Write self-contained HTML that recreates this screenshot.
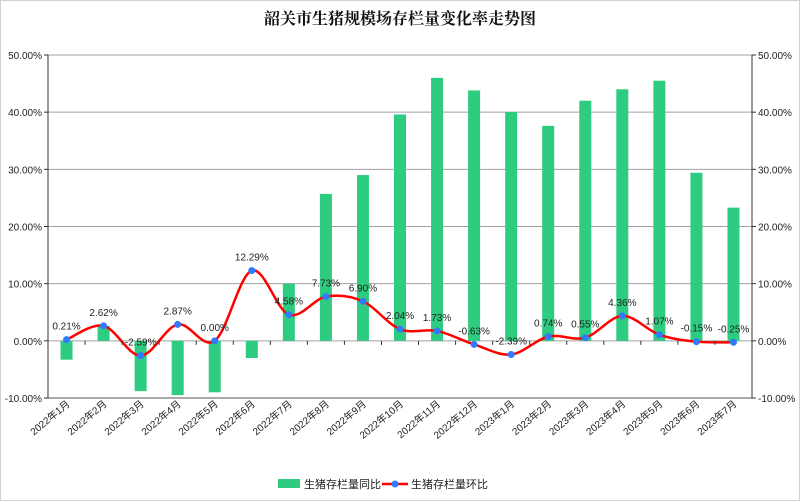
<!DOCTYPE html>
<html><head><meta charset="utf-8"><style>
body{margin:0;background:#fff;}
svg{display:block;font-family:"Liberation Sans","Noto Sans CJK SC",sans-serif;}
</style></head><body>
<svg id="c" width="800" height="501">
<rect x="0.5" y="0.5" width="799" height="500" fill="#fff" stroke="#d0d0d0"/>
<text x="400" y="24" text-anchor="middle" font-size="16" font-weight="bold" font-family="'Noto Serif CJK SC',serif" fill="#111">韶关市生猪规模场存栏量变化率走势图</text>
<g id="grid"></g><g id="bars"></g><g id="line"></g><g id="axes"></g>
<g>
<rect x="278" y="479" width="22" height="9" fill="#2ecc80"/>
<text x="304" y="488" font-size="11" fill="#222">生猪存栏量同比</text>
<line x1="382" y1="484" x2="408" y2="484" stroke="#f00" stroke-width="2.5"/>
<circle cx="395" cy="484" r="3.5" fill="#2f7bff"/>
<text x="411" y="488" font-size="11" fill="#222">生猪存栏量环比</text>
</g>
</svg>
<script>
const categories=["2022年1月","2022年2月","2022年3月","2022年4月","2022年5月","2022年6月","2022年7月","2022年8月","2022年9月","2022年10月","2022年11月","2022年12月","2023年1月","2023年2月","2023年3月","2023年4月","2023年5月","2023年6月","2023年7月"];
const yoyValues=[-3.3,2.6,-8.8,-9.5,-9.0,-3.0,10.0,25.7,29.0,39.6,46.0,43.8,40.0,37.6,42.0,44.0,45.5,29.4,23.3];
const momValues=[0.21,2.62,-2.59,2.87,0.00,12.29,4.58,7.73,6.90,2.04,1.73,-0.63,-2.39,0.74,0.55,4.36,1.07,-0.15,-0.25];
const momLabels=["0.21%","2.62%","-2.59%","2.87%","0.00%","12.29%","4.58%","7.73%","6.90%","2.04%","1.73%","-0.63%","-2.39%","0.74%","0.55%","4.36%","1.07%","-0.15%","-0.25%"];
const yTicks=[50,40,30,20,10,0,-10];
const NS="http://www.w3.org/2000/svg";
const L=48,R=752,T=55,B=398,ymin=-10,ymax=50;
const step=(R-L)/categories.length;
const x=i=>L+step*(i+0.5);
const y=v=>B-(v-ymin)/(ymax-ymin)*(B-T);
function mk(tag,attrs,parent,txt){const e=document.createElementNS(NS,tag);for(const k in attrs)e.setAttribute(k,attrs[k]);if(txt!==undefined)e.textContent=txt;document.getElementById(parent).appendChild(e);return e;}
yTicks.forEach(t=>{
 const g=mk('line',{x1:L,x2:R,y1:y(t),y2:y(t),stroke:t===-10?'#555':'#a0a0a0','stroke-width':1},'grid');
 
 
 const lab=t.toFixed(2)+'%';
 const a=mk('text',{x:L-6,y:y(t)+4,'text-anchor':'end','font-size':10,fill:'#222'},'axes',lab);
 
 
 const b=mk('text',{x:R+6,y:y(t)+4,'font-size':10,fill:'#222'},'axes',lab);
 
 
 mk('line',{x1:L-4,x2:L,y1:y(t),y2:y(t),stroke:'#333'},'axes');
 mk('line',{x1:R,x2:R+4,y1:y(t),y2:y(t),stroke:'#333'},'axes');
});
const la=mk('line',{x1:L,x2:L,y1:T,y2:B,stroke:'#333'},'axes');


const ra=mk('line',{x1:R,x2:R,y1:T,y2:B,stroke:'#333'},'axes');


for(let i=0;i<=categories.length;i++){mk('line',{x1:L+step*i,x2:L+step*i,y1:y(0),y2:y(0)+4,stroke:'#333'},'axes');}
categories.forEach((c,i)=>{
 const v=yoyValues[i];
 const r=mk('rect',{x:x(i)-6,y:Math.min(y(v),y(0)),width:12,height:Math.abs(y(v)-y(0)),fill:'#2ecc80'},'bars');
 
 
 const tx=x(i)+4,ty=405;
 const t=mk('text',{x:tx,y:ty,'text-anchor':'end','font-size':10,fill:'#222',transform:`rotate(-40 ${tx} ${ty})`},'axes',c);
 
 
});
// smooth line (catmull-rom)
const pts=momValues.map((v,i)=>[x(i),y(v)]);
let d=`M${pts[0][0]},${pts[0][1]}`;
for(let i=0;i<pts.length-1;i++){
 const p0=pts[Math.max(0,i-1)],p1=pts[i],p2=pts[i+1],p3=pts[Math.min(pts.length-1,i+2)];
 const c1=[p1[0]+(p2[0]-p0[0])/6,p1[1]+(p2[1]-p0[1])/6],c2=[p2[0]-(p3[0]-p1[0])/6,p2[1]-(p3[1]-p1[1])/6];
 d+=` C${c1[0]},${c1[1]} ${c2[0]},${c2[1]} ${p2[0]},${p2[1]}`;
}
const pl=mk('path',{d:d,fill:'none',stroke:'#f00','stroke-width':2.5},'line');


pts.forEach((p,i)=>{
 const c=mk('circle',{cx:p[0],cy:p[1],r:3.5,fill:'#2f7bff'},'line');
 
 
 const t=mk('text',{x:p[0],y:p[1]-10,'text-anchor':'middle','font-size':10,fill:'#222'},'line',momLabels[i]);
 
 
});
</script>
</body></html>
